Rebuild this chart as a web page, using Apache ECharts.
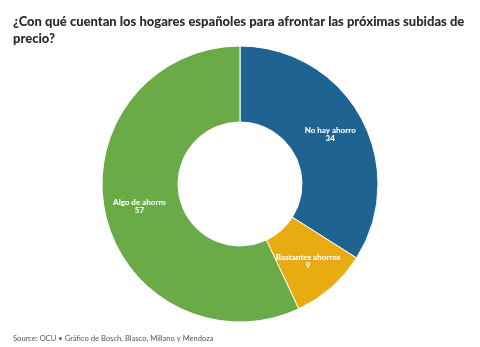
<!DOCTYPE html>
<html><head><meta charset="utf-8">
<script src="https://cdn.jsdelivr.net/npm/echarts@6/dist/echarts.min.js"></script>
<style>html,body{margin:0;padding:0;background:#fff}#c{width:480px;height:347px}</style>
</head><body><div id="c"></div>
<script>
const categories = ["No hay ahorro", "Bastantes ahorros", "Algo de ahorro"];
const values = [34, 9, 57];
const colors = ["#1f6393", "#e9ab12", "#6aab47"];
const titleText = "¿Con qué cuentan los hogares españoles para afrontar las próximas subidas de\nprecio?";
const sourceText = "Source: OCU • Gráfico de Bosch, Blasco, Millano y Mendoza";

const chart = echarts.init(document.getElementById('c'), null, {renderer: 'canvas'});
chart.setOption({
  animation: false,
  title: [{
    text: titleText, left: 8, top: 8,
    textStyle: {fontFamily: 'Lato', fontWeight: 900, fontSize: 13, color: '#2b2b2b', lineHeight: 17}
  }, {
    text: sourceText, left: 8, top: 330,
    textStyle: {fontFamily: 'Lato', fontWeight: 'normal', fontSize: 7.6, color: '#555'}
  }],
  series: [{
    type: 'pie',
    center: [240, 184],
    radius: [62, 138],
    startAngle: 90,
    clockwise: true,
    data: categories.map((c, i) => ({name: c, value: values[i], itemStyle: {color: colors[i]}})),
    itemStyle: {borderColor: '#fff', borderWidth: 1},
    label: {
      show: true, position: 'inside', formatter: '{b}\n{c}',
      color: '#fff', fontFamily: 'Lato', fontWeight: 900, fontSize: 8, lineHeight: 8,
      textBorderWidth: 0
    },
    labelLine: {show: false},
    emphasis: {disabled: true}
  }]
});
</script></body></html>
